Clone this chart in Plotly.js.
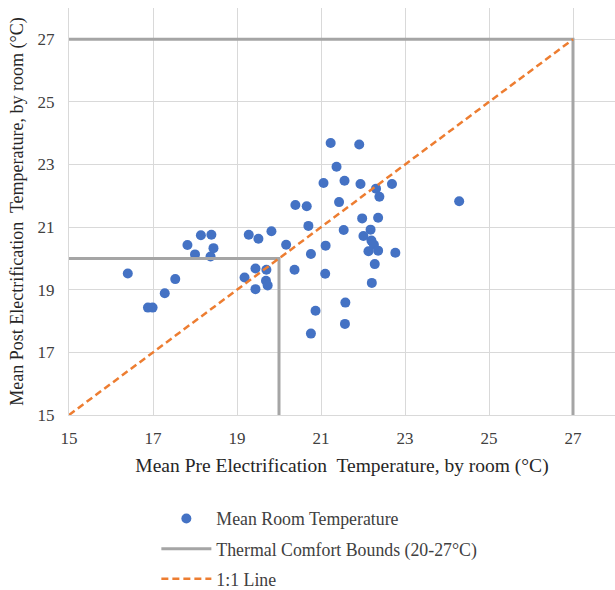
<!DOCTYPE html>
<html><head><meta charset="utf-8">
<script src="https://cdn.plot.ly/plotly-3.0.1.min.js"></script>
<style>body{margin:0;background:#fff}#chart{width:615px;height:590px}</style>
</head><body><div id="chart"></div>
<script>
// Mean pre-electrification temperature (°C), by room
const preTemp = [16.40,16.88,16.99,17.28,17.53,17.82,18.00,18.14,18.39,18.44,18.37,19.28,19.51,19.82,19.44,19.70,19.18,19.69,19.73,19.44,20.17,20.39,20.66,20.70,20.76,20.37,20.87,20.76,
  21.23,21.91,21.37,21.06,21.56,21.94,22.31,22.69,22.39,21.43,24.29,21.98,22.36,21.54,22.18,22.01,21.11,22.20,22.26,22.13,22.36,22.77,21.10,22.28,22.21,21.58,21.57];
// Mean post-electrification temperature (°C), by room
const postTemp = [19.52,18.43,18.43,18.89,19.34,20.43,20.13,20.74,20.76,20.33,20.06,20.76,20.63,20.87,19.68,19.64,19.39,19.29,19.14,19.02,20.44,21.71,21.67,21.04,20.14,19.64,18.33,17.60,
  23.69,23.64,22.93,22.41,22.48,22.38,22.23,22.38,21.97,21.80,21.83,21.28,21.30,20.91,20.92,20.72,20.41,20.57,20.44,20.23,20.25,20.18,19.51,19.82,19.22,18.59,17.91];
// Thermal comfort bounds (lower 20°C, upper 27°C)
const boundX = [15,20,20,null,15,27,27];
const boundY = [20,20,15,null,27,27,15];
// 1:1 line
const oneX = [15,27];
const oneY = [15,27];
const tickVals = [15,17,19,21,23,25,27];

const font = 'Liberation Serif';
const traces = [
  {x: preTemp, y: postTemp, mode:'markers', type:'scatter', name:'Mean Room Temperature',
   marker:{color:'#4472c4', size:10}, legendgroup:'a', cliponaxis:false},
  {x: boundX, y: boundY, mode:'lines', type:'scatter', name:'Thermal Comfort Bounds (20-27°C)',
   line:{color:'#a5a5a5', width:3}, legendgroup:'b', connectgaps:false},
  {x: oneX, y: oneY, mode:'lines', type:'scatter', name:'1:1 Line',
   line:{color:'#ed7d31', width:2.5, dash:'7px,4px'}, legendgroup:'c'}
];
const layout = {
  width:615, height:590,
  margin:{l:69, r:0, t:8, b:175, autoexpand:false},
  paper_bgcolor:'#fff', plot_bgcolor:'#fff',
  font:{family:font, size:16, color:'#404040'},
  showlegend:true,
  legend:{orientation:'v', x:0.16, xanchor:'left', y:-0.21, yanchor:'top',
    font:{family:font, size:17.8, color:'#404040'}, tracegroupgap:4, itemwidth:50, traceorder:'grouped'},
  xaxis:{range:[15,28], tickvals:tickVals, showgrid:true, gridcolor:'#d9d9d9', gridwidth:1,
    zeroline:false, showline:true, linecolor:'#d9d9d9', linewidth:1, ticks:'', ticklen:0,
    ticklabelstandoff:8,
    tickfont:{family:font, size:17, color:'#404040'},
    title:{text:'Mean Pre Electrification  Temperature, by room (°C)', font:{family:font, size:19.5, color:'#262626'}, standoff:10}},
  yaxis:{range:[15,28], tickvals:tickVals, showgrid:true, gridcolor:'#d9d9d9', gridwidth:1,
    zeroline:false, showline:true, linecolor:'#d9d9d9', linewidth:1, ticks:'',
    ticklabelstandoff:10,
    tickfont:{family:font, size:17, color:'#404040'},
    title:{text:'Mean Post Electrification  Temperature, by room (°C)', font:{family:font, size:18, color:'#262626'}, standoff:9}}
};
Plotly.newPlot('chart', traces, layout, {displayModeBar:false, staticPlot:true});
</script></body></html>
